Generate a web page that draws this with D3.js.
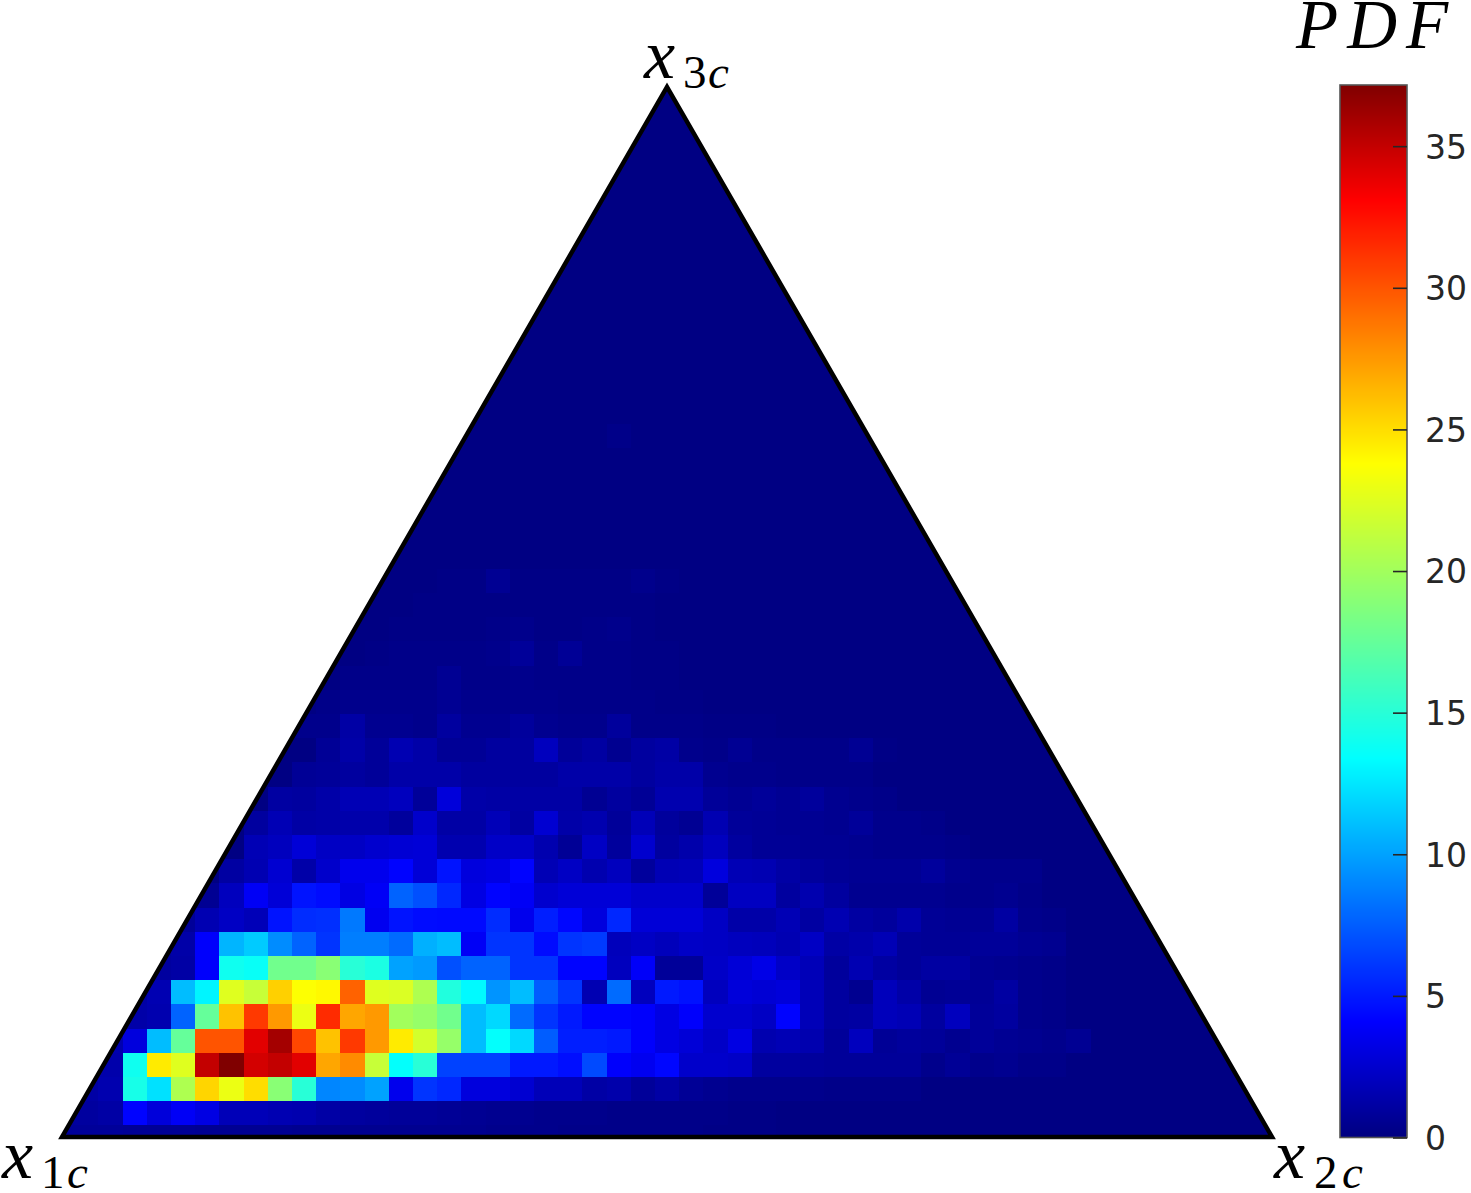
<!DOCTYPE html>
<html>
<head>
<meta charset="utf-8">
<style>
html,body{margin:0;padding:0;background:#fff;}
svg{display:block;}
text{font-family:"Liberation Serif",serif;}
.tick text{font-family:"DejaVu Sans",sans-serif;}
</style>
<script src="https://cdn.jsdelivr.net/npm/d3@7"></script>
</head>
<body>
<svg id="chart" width="1471" height="1193"></svg>
<script>
const cornerLabels = ["x", "x", "x"];
const cornerDigits = ["1", "2", "3"];
const colorbarTicks = [0, 5, 10, 15, 20, 25, 30, 35];
const colorbarTitle = "PDF";
const pdfMax = 37.16;
const background = 0.1;

// PDF by bin; rows go upward from the base, columns rightward from the x1c corner.
const row00 = [.8,.8,.8,.7,.7,.7,.6,.6,.6,.6,.5,.5,.5,.5,.5,.5,.5,.5,.4,.4,.4,.3,.3,.3,.3,.3,.3,.2,.2,.2];
const row01 = [.9,1,1.2,4.2,2.9,3.8,3.2,1.8,1.8,1.6,1.5,1.2,1,.9,.8,.8,.7,.6,.5,.5,.4,.4,.4,.3,.3,.3,.3,.3,.2,.2];
const row02 = [.8,1.2,1.5,14.3,12.3,20.5,25.3,23,25,19,15,9,9.2,10,3.5,6,5.5,3,3,2.6,1.8,1.8,1.2,1.4,.8,1.2,.7,.5,.4,.4,.4,.4,.3,.3,.3,.3];
const row03 = [.8,1,1.4,14,24.5,22.5,35,37.2,34.5,35,34,27,28,21.5,13.5,15,6.5,6.5,6.5,5,5,4.6,6.8,4,3.6,4.3,2.4,2.4,2.3,1,1,.9,.8,.8,.8,.8,.4,.7,.4,.5,.3,.3];
const row04 = [0,.8,1.5,3,11,17.5,30,30,34,36,30.5,26,31,27.5,24.5,22,19.5,11,13.5,12,7.5,5.2,5.2,5,4,3.2,2.8,2.3,3.2,1.5,1.7,1.5,.8,2,.7,.9,.8,.5,.8,.6,.5,.4,.6];
const row05 = [0,0,1,1.3,1.5,7.7,17.5,26,31,27.5,23,31.5,27,27.5,20,19.5,18,11,12,8,6,5,4.2,4.2,4,3.2,4,2.5,2.5,2.2,4.2,1.8,1,1.1,1.9,1.7,1,2,.8,1,.4,.3];
const row06 = [0,0,0,1.2,1.6,11,13,22.5,21.5,25.5,23.7,24,29.5,22.5,22.3,20.5,14.7,13.2,9.5,11,7.5,6,1.6,8,2,5,4.7,2,2.9,2.7,2.9,1.8,1,.5,1.9,1.3,.6,.7,.7,1.1,.4,.3];
const row07 = [0,0,0,0,1,1.2,4,14,13.7,18,18,19,15,14.5,10,9.7,7,7.7,7.7,6,6,4.2,4.2,2,3.9,.8,.8,2.3,2.8,3.3,2.3,1.8,.9,1.6,1.1,.8,1.1,1.1,.6,.5,.4,.3];
const row08 = [0,0,0,0,.8,1.3,4,10.7,11.5,9.2,7.7,6,8.7,8.7,8,10.5,11,3.8,6,6,4.5,6,6.2,1.9,2.2,1.9,2.3,2.2,2,1.9,1.6,2.2,1.2,1.4,1.7,.8,.7,.7,.8,.8,.6,.5];
const row09 = [0,0,0,0,0,.8,1.6,2.2,1.8,4.8,5.7,5.8,8.5,3.6,4.8,4.5,4.4,4.4,5.7,3.5,5.2,4.3,3,5.5,2.8,2.8,2.8,2.2,1.3,1.3,1.7,1.1,1.6,1.1,.9,1.4,.7,.6,.6,1.1,.4,.3];
const row10 = [0,0,0,0,0,0,.6,2,3.8,2.8,4.8,4.5,3.2,3.8,7.7,7,5.5,3.2,4.2,3.8,2.5,2.8,2.8,2.8,2.4,2.4,2.4,.8,2.1,2.1,1,1.5,1,.5,.5,.5,.5,.4,.4,.5,.3];
const row11 = [0,0,0,0,0,0,0,1.1,1.6,2.6,1.3,2.4,3.5,3.5,4.2,2.8,4.8,3,3.2,4.2,1.7,2.2,1.5,2,.9,1.7,1.8,3,1.7,1.6,1.2,.9,.7,.6,.6,.6,.9,.5,.4,.4,.4];
const row12 = [0,0,0,0,0,0,0,0,1.7,2,2.8,2.2,2.2,2.5,2.7,2.8,1.5,1.5,2.3,2.3,1.5,.7,2.2,.9,2.5,1,1.4,2,1,.7,.7,.6,.6,.5,.4,.4,.4,.3];
const row13 = [0,0,0,0,0,0,0,0,1,1.7,1.2,1.3,1.4,1.4,.9,2.4,1.2,1.2,1.8,1.1,2.6,1.3,1.5,.8,1.8,.9,.6,1.6,.8,.7,.6,.6,.5,.8,.4,.4,.3];
const row14 = [0,0,0,0,0,0,0,0,0,1.1,1,1.3,1.7,1.7,2,.8,2.9,1.3,1.2,1.2,1.2,1.2,.6,1,.7,1.5,1.5,.8,.6,.8,.6,.9,.5,.4,.3];
const row15 = [0,0,0,0,0,0,0,0,0,0,.7,.8,1,.8,1.3,1.3,1.3,1,1,1,1,1.3,1.3,1.3,1,1.3,1.3,.5,.4,.4,.3,.3,.3,.3];
const row16 = [0,0,0,0,0,0,0,0,0,0,0,.7,1.3,.8,1.6,1.3,.7,.7,1,1,2,.8,1.1,.5,1,1.2,.4,.3,.6,.3,.3,.3,.3,.6,.2];
const row17 = [0,0,0,0,0,0,0,0,0,0,.4,.4,1.2,.5,.5,.4,1,.5,.5,.9,.5,.4,.4,.9,.3,.3,.3,.2,.2,.2];
const row18 = [0,0,0,0,0,0,0,0,0,0,0,.3,.4,.4,.4,.4,.6,.4,.4,.4,.4,.3,.3,.3,.3,.2,.2];
const row19 = [0,0,0,0,0,0,0,0,0,0,0,0,.3,.3,.3,.3,.6,.3,.3,.4,.3,.3,.3,.3,.2,.2];
const row20 = [0,0,0,0,0,0,0,0,0,0,0,0,0,.2,.3,.3,.3,.3,.4,.8,.3,.7,.3,.3,.2,.2];
const row21 = [0,0,0,0,0,0,0,0,0,0,0,0,0,0,.2,.2,.2,.2,.3,.4,.2,.2,.3,.4,.2];
const row22 = [0,0,0,0,0,0,0,0,0,0,0,0,0,0,0,.2,.2,.2,.2,.2,.2,.2,.2,.2,.2];
const row23 = [0,0,0,0,0,0,0,0,0,0,0,0,0,0,0,0,.2,.2,.6,.2,.2,.2,.2,.2,.4,.2];
const row24 = [];
const row25 = [];
const row26 = [];
const row27 = [];
const row28 = [];
const row29 = [0,0,0,0,0,0,0,0,0,0,0,0,0,0,0,0,0,0,0,0,0,0,0,.3];
const rows = [row00,row01,row02,row03,row04,row05,row06,row07,row08,row09,row10,row11,
              row12,row13,row14,row15,row16,row17,row18,row19,row20,row21,row22,row23,
              row24,row25,row26,row27,row28,row29];
const columnCount = 51;
const rowCount = 44;

const svg = d3.select("#chart");

const x = d3.scaleLinear().domain([0, 50]).range([62, 1272]);
const y = d3.scaleLinear().domain([0, 43.4]).range([1137.6, 87.3]);
const cw = x(1) - x(0), ch = y(0) - y(1);

const jet = d3.scaleLinear()
  .domain([0, .11, .235, .36, .5, .64, .765, .89, 1].map(f => f * pdfMax))
  .range(["#000080","#0000ff","#007fff","#00ffff","#7fff7f","#ffff00","#ff7f00","#ff0000","#800000"])
  .clamp(true);

const tri = [[x(0), 1137], [x(50), 1137], [x(25), 87]];

svg.append("defs").append("clipPath").attr("id", "triClip")
  .append("polygon").attr("points", tri.map(p => p.join(",")).join(" "));

const cells = [];
d3.range(rowCount).forEach(j => d3.range(columnCount).forEach(k => {
  const r = rows[j] || [];
  cells.push({k, j, v: k < r.length && r[k] > 0 ? r[k] : background});
}));

svg.append("g").attr("clip-path", "url(#triClip)")
  .attr("shape-rendering", "crispEdges")
  .selectAll("rect").data(cells).join("rect")
  .attr("x", d => x(d.k) - cw / 2)
  .attr("y", d => y(d.j) - ch / 2)
  .attr("width", cw)
  .attr("height", ch)
  .attr("fill", d => jet(d.v));

svg.append("polygon")
  .attr("points", tri.map(p => p.join(",")).join(" "))
  .attr("fill", "none").attr("stroke", "#000").attr("stroke-width", 4.5)
  .attr("stroke-linejoin", "miter");

// colour bar
const cbY = d3.scaleLinear().domain([0, pdfMax]).range([1137.5, 85]);
const cbLeft = 1340, cbRight = 1407;
svg.append("g").attr("shape-rendering", "crispEdges")
  .selectAll("rect").data(d3.range(0, 1052)).join("rect")
  .attr("x", cbLeft).attr("width", cbRight - cbLeft)
  .attr("y", d => 85 + d).attr("height", 1.5)
  .attr("fill", d => jet(cbY.invert(85 + d + .5)));

svg.append("rect")
  .attr("x", cbLeft).attr("y", 85).attr("width", cbRight - cbLeft).attr("height", 1052.5)
  .attr("fill", "none").attr("stroke", "#555").attr("stroke-width", 1.6);

const axis = d3.axisRight(cbY).tickValues(colorbarTicks).tickSizeInner(-14).tickSizeOuter(0).tickPadding(18);
const ax = svg.append("g").attr("transform", `translate(${cbRight},0)`).call(axis);
ax.select(".domain").remove();
ax.selectAll(".tick line").attr("stroke", "#262626").attr("stroke-width", 1.6);
ax.selectAll(".tick text").attr("fill", "#262626").attr("font-size", 33).attr("dy", ".36em");

// labels
svg.append("text").attr("x", 1296).attr("y", 48)
  .attr("font-size", 69).attr("font-style", "italic")
  .attr("letter-spacing", 9).attr("fill", "#000").text(colorbarTitle);

const labelPlaces = [
  {x: 2, y: 1178, digit: 41, c: 67},
  {x: 1274, y: 1178, digit: 1314, c: 1342},
  {x: 644, y: 78, digit: 683, c: 708}
];
labelPlaces.forEach((p, i) => {
  svg.append("text").attr("x", p.x).attr("y", p.y).attr("font-size", 70)
    .attr("font-style", "italic").attr("fill", "#000").text(cornerLabels[i]);
  svg.append("text").attr("x", p.digit).attr("y", p.y + 10).attr("font-size", 47)
    .attr("fill", "#000").text(cornerDigits[i]);
  svg.append("text").attr("x", p.c).attr("y", p.y + 10).attr("font-size", 47)
    .attr("font-style", "italic").attr("fill", "#000").text("c");
});
</script>
</body>
</html>
